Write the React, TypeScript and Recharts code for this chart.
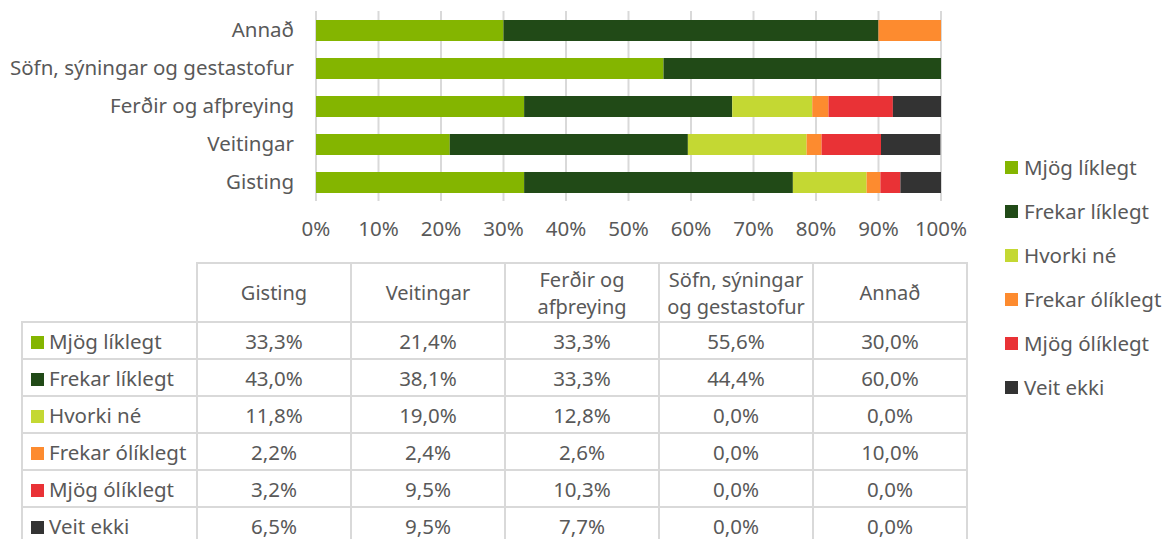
import React from 'react';
import { BarChart, Bar, XAxis, YAxis, CartesianGrid, Legend } from 'recharts';

const categories = ['Gisting', 'Veitingar', 'Ferðir og afþreying', 'Söfn, sýningar og gestastofur', 'Annað'];
const tableHeaders = [['Gisting'], ['Veitingar'], ['Ferðir og', 'afþreying'], ['Söfn, sýningar', 'og gestastofur'], ['Annað']];
const seriesNames = ['Mjög líklegt', 'Frekar líklegt', 'Hvorki né', 'Frekar ólíklegt', 'Mjög ólíklegt', 'Veit ekki'];
const seriesColors = ['#84b500', '#214a17', '#c4d833', '#fd8b2f', '#e93236', '#333333'];
const mjogLiklegt = [33.3, 21.4, 33.3, 55.6, 30.0];
const frekarLiklegt = [43.0, 38.1, 33.3, 44.4, 60.0];
const hvorkiNe = [11.8, 19.0, 12.8, 0.0, 0.0];
const frekarOliklegt = [2.2, 2.4, 2.6, 0.0, 10.0];
const mjogOliklegt = [3.2, 9.5, 10.3, 0.0, 0.0];
const veitEkki = [6.5, 9.5, 7.7, 0.0, 0.0];
const xTicks = [0, 10, 20, 30, 40, 50, 60, 70, 80, 90, 100];

const seriesValues = [mjogLiklegt, frekarLiklegt, hvorkiNe, frekarOliklegt, mjogOliklegt, veitEkki];
const keys = ['s0', 's1', 's2', 's3', 's4', 's5'];

const data = categories.map((name, i) => {
  const row: Record<string, any> = { name };
  seriesValues.forEach((vals, s) => {
    row[keys[s]] = vals[i];
  });
  return row;
});

const FONT = '"Noto Sans", "Open Sans", sans-serif';
const FS = 20.5;
const TEXT = '#595959';
const GRID = '#d9d9d9';

const fmt = (v: number) => v.toFixed(1).replace('.', ',') + '%';

const LegendContent = () => (
  <div style={{ fontFamily: FONT, fontSize: FS, color: TEXT }}>
    {seriesNames.map((n, i) => (
      <div key={n} style={{ display: 'flex', alignItems: 'center', height: 44, whiteSpace: 'nowrap' }}>
        <span style={{ display: 'inline-block', width: 13, height: 13, background: seriesColors[i], marginRight: 6, flex: 'none' }} />
        <span>{n}</span>
      </div>
    ))}
  </div>
);

const cellBorder = `2px solid ${GRID}`;

export default function App() {
  return (
    <div style={{ position: 'absolute', left: 0, top: 0, width: 1170, height: 539, background: '#fff', overflow: 'hidden', fontFamily: FONT }}>
      <div style={{ position: 'absolute', left: 0, top: 0 }}>
        <BarChart
          width={1170}
          height={539}
          data={data}
          layout="vertical"
          margin={{ top: 11, right: 229, bottom: 308, left: 0 }}
        >
          <CartesianGrid horizontal={false} vertical={true} stroke={GRID} strokeWidth={2} />
          <XAxis
            type="number"
            domain={[0, 100]}
            ticks={xTicks}
            tickFormatter={(v: number) => v + '%'}
            axisLine={false}
            tickLine={false}
            tickMargin={14}
            height={30}
            tick={{ fill: TEXT, fontSize: FS, fontFamily: FONT }}
            allowDataOverflow
          />
          <YAxis
            type="category"
            dataKey="name"
            reversed
            width={316}
            axisLine={false}
            tickLine={false}
            tickMargin={16}
            tick={{ fill: TEXT, fontSize: FS, fontFamily: FONT }}
          />
          {keys.map((k, i) => (
            <Bar
              key={k}
              dataKey={k}
              name={seriesNames[i]}
              stackId="a"
              fill={seriesColors[i]}
              barSize={21}
              isAnimationActive={false}
            />
          ))}
          <Legend
            layout="vertical"
            align="center"
            verticalAlign="middle"
            content={<LegendContent />}
            wrapperStyle={{ left: 1005, top: 145, width: 165 }}
          />
        </BarChart>
      </div>
      <table
        style={{
          position: 'absolute',
          left: 21,
          top: 262,
          borderCollapse: 'collapse',
          fontFamily: FONT,
          fontSize: FS,
          color: TEXT,
          tableLayout: 'fixed',
        }}
      >
        <colgroup>
          <col style={{ width: 175 }} />
          {tableHeaders.map((_, i) => (
            <col key={i} style={{ width: 154 }} />
          ))}
        </colgroup>
        <thead>
          <tr style={{ height: 59 }}>
            <th style={{ border: 'none', borderRight: cellBorder, borderBottom: cellBorder }} />
            {tableHeaders.map((h, i) => (
              <th key={i} style={{ border: cellBorder, fontWeight: 'normal', fontSize: 20, lineHeight: '27px', padding: 0 }}>
                {h.map((line, j) => (
                  <div key={j}>{line}</div>
                ))}
              </th>
            ))}
          </tr>
        </thead>
        <tbody>
          {seriesNames.map((n, s) => (
            <tr key={n} style={{ height: 37 }}>
              <td style={{ border: cellBorder, padding: '0 0 0 8px', whiteSpace: 'nowrap', overflow: 'hidden', lineHeight: '24px' }}>
                <span style={{ display: 'inline-block', width: 13, height: 13, background: seriesColors[s], marginRight: 5 }} />
                {n}
              </td>
              {seriesValues[s].map((v, i) => (
                <td key={i} style={{ border: cellBorder, textAlign: 'center', padding: 0, lineHeight: '24px' }}>
                  {fmt(v)}
                </td>
              ))}
            </tr>
          ))}
        </tbody>
      </table>
    </div>
  );
}
